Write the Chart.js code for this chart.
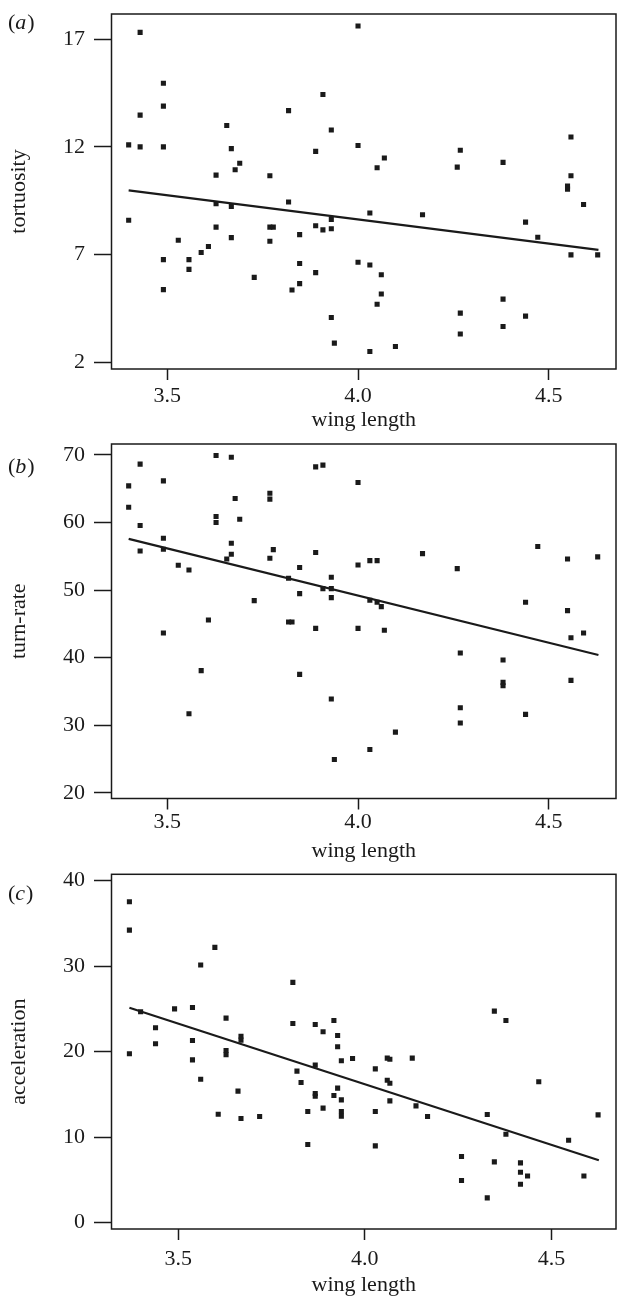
<!DOCTYPE html>
<html>
<head>
<meta charset="utf-8">
<script src="https://cdn.jsdelivr.net/npm/chart.js"></script>
<style>
  body { margin: 0; background: #fff; }
  canvas { display: block; position: absolute; left: 0; }
</style>
</head>
<body>
<canvas id="chartA" width="620" height="433" style="top:0px"></canvas>
<canvas id="chartB" width="620" height="432" style="top:433px"></canvas>
<canvas id="chartC" width="620" height="433" style="top:865px"></canvas>
<script>
// tick labels
const wingTicks = [3.5, 4.0, 4.5];
const tortTicks = [2, 7, 12, 17];
const turnTicks = [20, 30, 40, 50, 60, 70];
const accTicks = [0, 10, 20, 30, 40];

// (a) tortuosity vs wing length
const tortX = [3.399, 3.399, 3.429, 3.429, 3.429, 3.490, 3.490, 3.490, 3.490, 3.490,
  3.529, 3.557, 3.557, 3.589, 3.608, 3.628, 3.628, 3.628, 3.656, 3.668,
  3.668, 3.668, 3.678, 3.690, 3.728, 3.769, 3.769, 3.778, 3.769, 3.818,
  3.818, 3.827, 3.847, 3.847, 3.847, 3.889, 3.889, 3.889, 3.908, 3.908,
  3.930, 3.930, 3.930, 3.930, 3.938, 4.000, 4.000, 4.000, 4.031, 4.031,
  4.031, 4.050, 4.050, 4.061, 4.061, 4.069, 4.098, 4.169, 4.260, 4.268,
  4.268, 4.268, 4.380, 4.380, 4.380, 4.439, 4.439, 4.471, 4.549, 4.549,
  4.558, 4.558, 4.558, 4.591, 4.628];
const tortY = [12.09, 8.60, 17.31, 13.47, 12.0, 14.95, 13.89, 12.0, 6.77, 5.38,
  7.67, 6.77, 6.32, 7.10, 7.38, 10.69, 9.36, 8.28, 12.99, 11.92,
  9.24, 7.79, 10.94, 11.24, 5.95, 10.66, 8.28, 8.28, 7.62, 13.68,
  9.44, 5.36, 7.93, 6.59, 5.66, 11.79, 8.34, 6.17, 14.43, 8.15,
  12.78, 8.63, 8.20, 4.09, 2.90, 17.60, 12.06, 6.65, 8.93, 6.52,
  2.51, 11.03, 4.70, 6.07, 5.18, 11.48, 2.74, 8.85, 11.06, 11.84,
  4.29, 3.32, 11.28, 4.94, 3.67, 8.51, 4.15, 7.81, 10.18, 10.04,
  12.46, 10.66, 6.99, 9.33, 6.99];
const tortFitX = [3.399, 4.630];
const tortFitY = [9.98, 7.22];

// (b) turn-rate vs wing length
const turnX = [3.399, 3.399, 3.429, 3.429, 3.429, 3.490, 3.490, 3.490, 3.490, 3.529,
  3.557, 3.557, 3.589, 3.608, 3.628, 3.628, 3.628, 3.656, 3.668, 3.668,
  3.668, 3.678, 3.690, 3.728, 3.769, 3.769, 3.769, 3.778, 3.818, 3.818,
  3.827, 3.847, 3.847, 3.847, 3.889, 3.889, 3.889, 3.908, 3.908, 3.930,
  3.930, 3.930, 3.930, 3.938, 4.000, 4.000, 4.000, 4.031, 4.031, 4.031,
  4.050, 4.050, 4.061, 4.069, 4.098, 4.169, 4.260, 4.268, 4.268, 4.268,
  4.380, 4.380, 4.380, 4.439, 4.439, 4.471, 4.549, 4.549, 4.558, 4.558,
  4.591, 4.628];
const turnY = [65.41, 62.25, 68.62, 59.54, 55.78, 66.15, 57.66, 56.03, 43.64, 53.66,
  52.97, 31.70, 38.07, 45.57, 69.90, 60.87, 59.98, 54.60, 69.65, 56.92,
  55.29, 63.53, 60.47, 48.43, 64.32, 63.44, 54.70, 55.98, 51.74, 45.27,
  45.27, 53.32, 49.47, 37.52, 68.22, 55.54, 44.33, 68.47, 50.21, 51.89,
  50.21, 48.87, 33.87, 24.93, 65.90, 53.71, 44.33, 54.35, 48.48, 26.42,
  54.35, 48.18, 47.54, 44.04, 28.98, 55.39, 53.17, 40.68, 32.59, 30.32,
  39.64, 36.34, 35.84, 48.18, 31.60, 56.43, 54.60, 46.95, 42.95, 36.63,
  43.64, 54.90];
const turnFitX = [3.399, 4.630];
const turnFitY = [57.56, 40.38];

// (c) acceleration vs wing length
const accX = [3.369, 3.369, 3.369, 3.399, 3.439, 3.439, 3.490, 3.538, 3.538, 3.538,
  3.560, 3.560, 3.598, 3.607, 3.628, 3.628, 3.628, 3.660, 3.668, 3.668,
  3.668, 3.718, 3.807, 3.807, 3.818, 3.829, 3.847, 3.847, 3.867, 3.867,
  3.867, 3.867, 3.888, 3.888, 3.917, 3.917, 3.927, 3.927, 3.927, 3.937,
  3.937, 3.937, 3.937, 3.967, 4.028, 4.028, 4.028, 4.060, 4.067, 4.060,
  4.067, 4.067, 4.127, 4.137, 4.168, 4.259, 4.259, 4.328, 4.328, 4.347,
  4.347, 4.378, 4.378, 4.417, 4.417, 4.417, 4.436, 4.466, 4.546, 4.587,
  4.625];
const accY = [37.54, 34.22, 19.75, 24.66, 22.79, 20.92, 25.01, 25.17, 21.31, 19.04,
  30.13, 16.78, 32.20, 12.68, 23.92, 20.14, 19.63, 15.38, 21.81, 21.35,
  12.18, 12.41, 28.10, 23.30, 17.72, 16.39, 13.00, 9.13, 23.18, 18.42,
  15.10, 14.79, 22.32, 13.39, 23.65, 14.87, 21.89, 20.57, 15.73, 18.93,
  14.36, 13.00, 12.45, 19.20, 17.99, 13.00, 8.98, 19.24, 19.12, 16.66,
  16.31, 14.24, 19.24, 13.66, 12.41, 7.73, 4.92, 12.64, 2.89, 24.74,
  7.10, 23.65, 10.34, 6.99, 5.89, 4.49, 5.46, 16.47, 9.64, 5.46,
  12.60];
const accFitX = [3.369, 4.627];
const accFitY = [25.13, 7.30];

const ink = "#1a1a1a";
const serif = "'Liberation Serif', 'Times New Roman', serif";
const textFont = { family: serif, size: 22 };

// box round the plot area + the (a)/(b)/(c) label
const frameAndLabel = {
  id: "frameAndLabel",
  afterDraw(chart, args, opts) {
    const { ctx, chartArea: a } = chart;
    ctx.save();
    ctx.strokeStyle = ink;
    ctx.lineWidth = 1.5;
    ctx.strokeRect(a.left, a.top, a.right - a.left, a.bottom - a.top);
    ctx.fillStyle = ink;
    ctx.textBaseline = "middle";
    let x = 8;
    ctx.font = `22px ${serif}`;
    ctx.fillText("(", x, opts.y);
    x += ctx.measureText("(").width;
    ctx.font = `italic 22px ${serif}`;
    ctx.fillText(opts.letter, x, opts.y);
    x += ctx.measureText(opts.letter).width + 1;
    ctx.font = `22px ${serif}`;
    ctx.fillText(")", x, opts.y);
    ctx.restore();
  },
};

function toPoints(xs, ys) {
  return xs.map((x, i) => ({ x: x, y: ys[i] }));
}

function drawPanel(id, xs, ys, fitX, fitY, yTicks, p) {
  const canvas = document.getElementById(id);
  const h = canvas.height;
  new Chart(canvas, {
    type: "scatter",
    data: {
      datasets: [
        {
          data: toPoints(xs, ys),
          pointStyle: "rect",
          pointRadius: 3.6,
          backgroundColor: ink,
          borderWidth: 0,
        },
        {
          data: toPoints(fitX, fitY),
          showLine: true,
          borderColor: ink,
          borderWidth: 2.2,
          pointRadius: 0,
        },
      ],
    },
    options: {
      responsive: false,
      animation: false,
      layout: { padding: { top: p.top, right: 1, left: 0, bottom: 0 } },
      plugins: {
        legend: { display: false },
        tooltip: { enabled: false },
        frameAndLabel: { letter: p.letter, y: p.labelY },
      },
      scales: {
        x: {
          type: "linear",
          min: p.xMin,
          max: p.xMax,
          afterBuildTicks: (s) => {
            s.ticks = wingTicks.map((v) => ({ value: v }));
          },
          afterFit: (s) => {
            s.height = h - p.bottom;
            s.paddingLeft = 0;
            s.paddingRight = 0;
          },
          ticks: {
            callback: (v) => v.toFixed(1),
            font: textFont,
            color: ink,
            padding: p.xPad,
            maxRotation: 0,
          },
          grid: { drawOnChartArea: false, tickLength: 11, tickWidth: 1.5, tickColor: ink },
          border: { display: false },
          title: {
            display: true,
            text: "wing length",
            font: textFont,
            color: ink,
            padding: { top: 0, bottom: p.titlePad },
          },
        },
        y: {
          min: p.yMin,
          max: p.yMax,
          afterBuildTicks: (s) => {
            s.ticks = yTicks.map((v) => ({ value: v }));
          },
          afterFit: (s) => {
            s.width = 111.5;
            s.paddingTop = 0;
            s.paddingBottom = 0;
          },
          ticks: { callback: (v) => String(v), font: textFont, color: ink, padding: 9 },
          grid: { drawOnChartArea: false, tickLength: 17.5, tickWidth: 1.5, tickColor: ink },
          border: { display: false },
          title: {
            display: true,
            text: p.title,
            font: textFont,
            color: ink,
            padding: { top: 6, bottom: 0 },
          },
        },
      },
    },
    plugins: [frameAndLabel],
  });
}

document.addEventListener("DOMContentLoaded", () => {
  drawPanel("chartA", tortX, tortY, tortFitX, tortFitY, tortTicks, {
    top: 14, bottom: 369, xMin: 3.354, xMax: 4.676, yMin: 1.7, yMax: 18.16,
    title: "tortuosity", letter: "a", labelY: 23, xPad: 3, titlePad: 0,
  });
  drawPanel("chartB", turnX, turnY, turnFitX, turnFitY, turnTicks, {
    top: 11, bottom: 365.5, xMin: 3.354, xMax: 4.676, yMin: 19.16, yMax: 71.6,
    title: "turn-rate", letter: "b", labelY: 34, xPad: 0, titlePad: 1,
  });
  drawPanel("chartC", accX, accY, accFitX, accFitY, accTicks, {
    top: 9.3, bottom: 364, xMin: 3.321, xMax: 4.673, yMin: -0.75, yMax: 40.75,
    title: "acceleration", letter: "c", labelY: 29, xPad: 6, titlePad: 0,
  });
});
</script>
</body>
</html>
